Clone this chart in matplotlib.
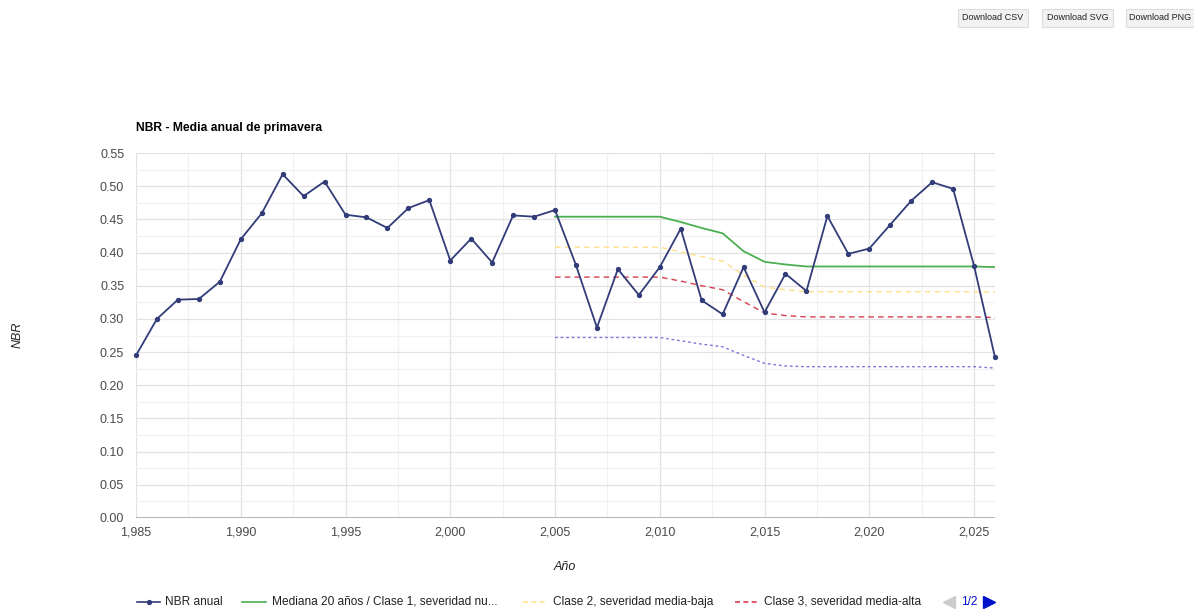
import matplotlib
matplotlib.use("Agg")
import matplotlib.pyplot as plt
from matplotlib.lines import Line2D
from matplotlib.ticker import MultipleLocator, FuncFormatter

plt.rcParams['font.family'] = ['Liberation Sans', 'DejaVu Sans']

years = list(range(1985, 2027))
nbr_anual = [0.245, 0.300, 0.329, 0.330, 0.356, 0.420, 0.459, 0.518, 0.485, 0.507,
             0.457, 0.453, 0.437, 0.467, 0.479, 0.388, 0.421, 0.385, 0.456, 0.454,
             0.464, 0.381, 0.287, 0.375, 0.336, 0.378, 0.436, 0.328, 0.307, 0.378,
             0.310, 0.368, 0.342, 0.455, 0.398, 0.406, 0.442, 0.478, 0.506, 0.496,
             0.380, 0.242]

class_years = list(range(2005, 2027))
mediana = [0.454, 0.454, 0.454, 0.454, 0.454, 0.454, 0.446, 0.437, 0.429, 0.402,
           0.386, 0.382, 0.379, 0.379, 0.379, 0.379, 0.379, 0.379, 0.379, 0.379,
           0.379, 0.378]
clase2 = [0.408, 0.408, 0.408, 0.408, 0.408, 0.408, 0.401, 0.394, 0.387, 0.366,
          0.348, 0.344, 0.341, 0.341, 0.341, 0.341, 0.341, 0.341, 0.341, 0.341,
          0.341, 0.340]
clase3 = [0.363, 0.363, 0.363, 0.363, 0.363, 0.363, 0.357, 0.350, 0.344, 0.326,
          0.309, 0.305, 0.303, 0.303, 0.303, 0.303, 0.303, 0.303, 0.303, 0.303,
          0.303, 0.302]
clase4 = [0.272, 0.272, 0.272, 0.272, 0.272, 0.272, 0.267, 0.262, 0.258, 0.245,
          0.233, 0.229, 0.228, 0.228, 0.228, 0.228, 0.228, 0.228, 0.228, 0.228,
          0.228, 0.226]

legend_labels = ["NBR anual", "Mediana 20 años / Clase 1, severidad nu...",
                 "Clase 2, severidad media-baja", "Clase 3, severidad media-alta"]

c_nbr = '#323c78'
c_med = '#4caf50'
c_c2 = '#ffe08a'
c_c3 = '#d6404e'
c_c4 = '#8e72d6'

W, H = 1194, 609
fig = plt.figure(figsize=(W / 100, H / 100), dpi=100)
ax = fig.add_axes([136 / W, 1 - 518 / H, (995 - 136) / W, (518 - 153) / H])

ax.set_xlim(1985, 2026)
ax.set_ylim(0, 0.55)
ax.xaxis.set_major_locator(MultipleLocator(5))
ax.xaxis.set_minor_locator(MultipleLocator(2.5))
ax.yaxis.set_major_locator(MultipleLocator(0.05))
ax.yaxis.set_minor_locator(MultipleLocator(0.025))
ax.grid(which='major', color='#e2e2e2', linewidth=0.9)
ax.grid(which='minor', color='#f1f1f1', linewidth=0.9)
ax.set_axisbelow(True)
for s in ax.spines.values():
    s.set_visible(False)
ax.axhline(0, color='#a0a0a0', linewidth=1.1, zorder=1)
ax.tick_params(which='both', length=0, labelsize=9, colors='#4a4a4a')
ax.tick_params(axis='y', pad=8.5)
ax.tick_params(axis='x', pad=6)
ax.xaxis.set_major_formatter(FuncFormatter(lambda v, p: f"{int(v):,}"))
ax.yaxis.set_major_formatter(FuncFormatter(lambda v, p: f"{v:.2f}"))

ax.plot(class_years, clase4, color=c_c4, linewidth=1.0, linestyle=(0, (2, 2)), zorder=2)
ax.plot(class_years, clase3, color=c_c3, linewidth=1.0, linestyle=(0, (4, 3)), zorder=2)
ax.plot(class_years, clase2, color=c_c2, linewidth=1.0, linestyle=(0, (4, 3)), zorder=2)
ax.plot(class_years, mediana, color=c_med, linewidth=1.3, zorder=3)
ax.plot(years, nbr_anual, color=c_nbr, linewidth=1.3, marker='o', markersize=2.8, zorder=4,
        clip_on=False)

fig.text(136 / W, 1 - 128 / H, "NBR - Media anual de primavera", fontsize=8.7, fontweight='bold',
         color='#000000', va='center', ha='left')
fig.text(18 / W, 1 - 335 / H, "NBR", fontsize=9, style='italic', rotation=90,
         color='#222222', va='center', ha='center')
fig.text(565 / W, 1 - 567 / H, "Año", fontsize=9, style='italic',
         color='#222222', va='center', ha='center')

# Download buttons
for x0, x1, lab in [(958, 1028, "Download CSV"), (1042, 1113, "Download SVG"), (1126, 1194, "Download PNG")]:
    rect = plt.Rectangle((x0 / W, 1 - 27 / H), (x1 - x0) / W, 18 / H, transform=fig.transFigure,
                         facecolor='#f2f2f2', edgecolor='#dddddd', linewidth=0.8)
    fig.patches.append(rect)
    fig.text((x0 + x1) / 2 / W, 1 - 18 / H, lab, fontsize=6.5, color='#222222', ha='center', va='center')

# Legend
ly = 1 - 602 / H
items = [(137, 160, 165, c_nbr, '-', 'o', legend_labels[0]),
         (242, 266, 272, c_med, '-', None, legend_labels[1]),
         (523, 547, 553, c_c2, (0, (3, 2)), None, legend_labels[2]),
         (735, 758, 764, c_c3, (0, (3, 2)), None, legend_labels[3])]
for x0, x1, xt, col, ls, mk, lab in items:
    fig.add_artist(Line2D([x0 / W, x1 / W], [ly, ly], transform=fig.transFigure, color=col,
                          linestyle=ls, linewidth=1.2))
    if mk:
        fig.add_artist(Line2D([(x0 + x1) / 2 / W], [ly], transform=fig.transFigure, color=col,
                              marker='o', markersize=2.8))
    fig.text(xt / W, ly, lab, fontsize=8.6, color='#222222', ha='left', va='center')

fig.add_artist(Line2D([949 / W], [ly], transform=fig.transFigure, color='#cccccc',
                      marker='<', markersize=8, linestyle='none'))
fig.text(961 / W, ly, "1/2", fontsize=8.6, color='#0011cc', ha='left', va='center')
fig.add_artist(Line2D([989 / W], [ly], transform=fig.transFigure, color='#0011cc',
                      marker='>', markersize=8, linestyle='none'))

fig.savefig("out.png", dpi=100)
